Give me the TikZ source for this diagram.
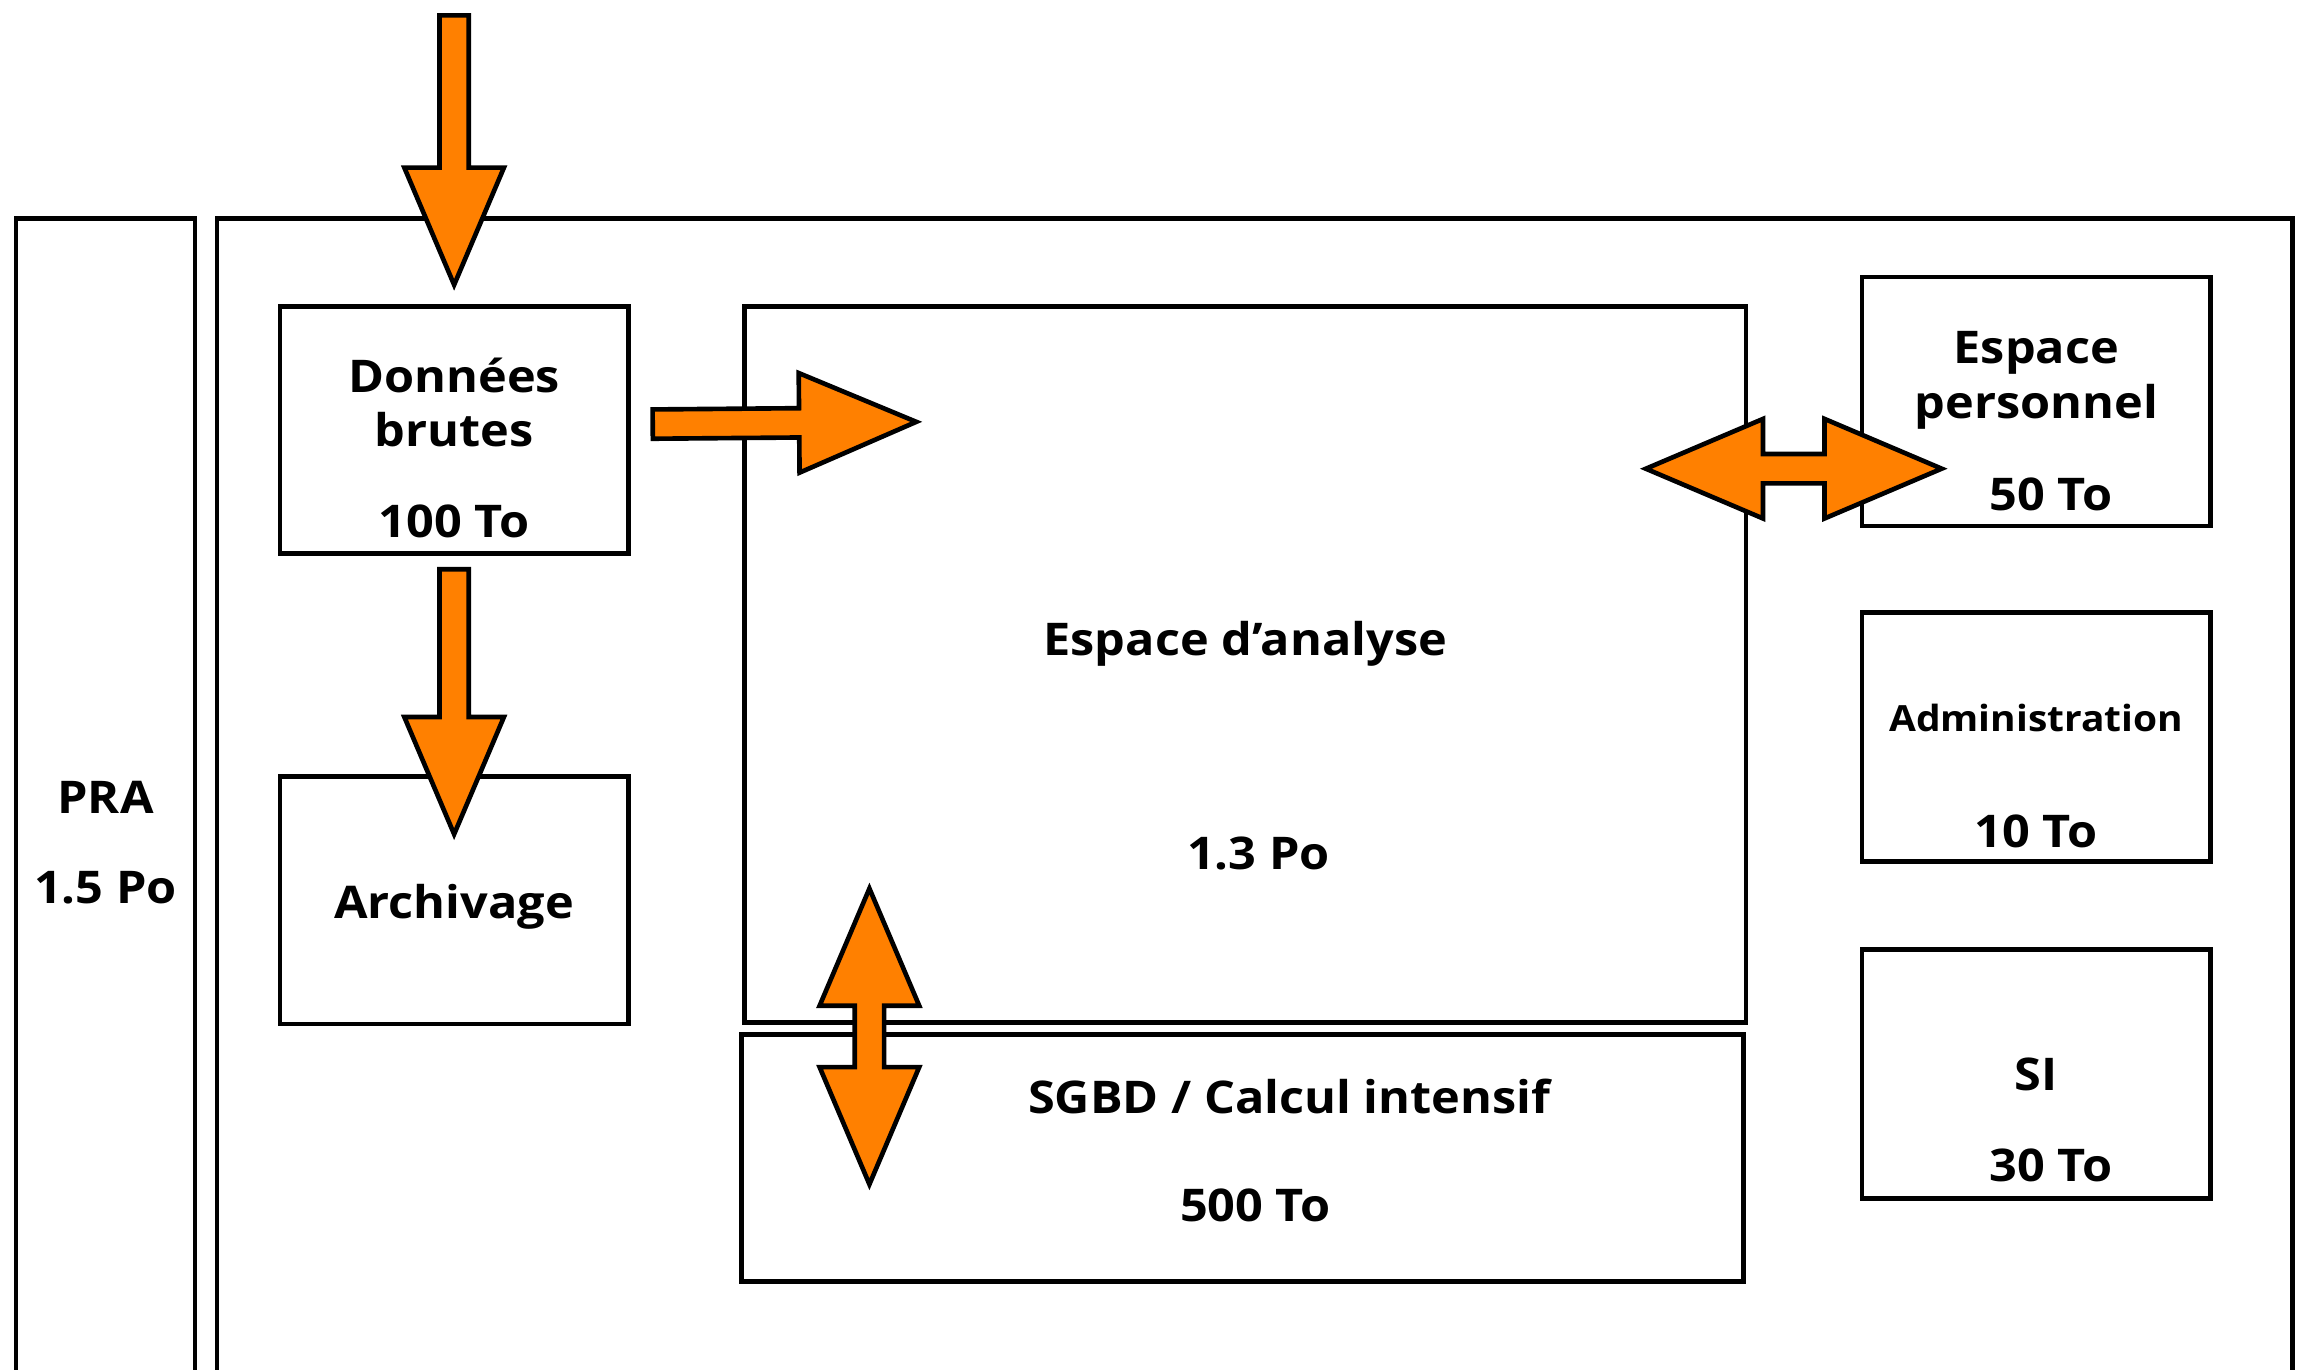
\documentclass[tikz,border=0pt]{standalone}
\usepackage{fontspec}
\setsansfont{Open Sans}[FakeStretch=1.08]
\usetikzlibrary{calc}

\definecolor{arroworange}{RGB}{255,128,0}
\lineskiplimit=-1000pt

% fat orange arrows, drawn from one point to the other
\newcommand{\fatArrow}[2]{%
   \coordinate (fa-b) at ($(#2)!1.6cm!(#1)$);
   \draw[fatarrow] ($(#1)!0.2cm!90:(#2)$) -- ($(fa-b)!0.2cm!90:(#2)$)
      -- ($(fa-b)!0.68cm!90:(#2)$) -- (#2) -- ($(fa-b)!0.68cm!-90:(#2)$)
      -- ($(fa-b)!0.2cm!-90:(#2)$) -- ($(#1)!0.2cm!-90:(#2)$) -- cycle;}
\newcommand{\fatDoubleArrow}[2]{%
   \coordinate (fa-a) at ($(#1)!1.6cm!(#2)$);
   \coordinate (fa-b) at ($(#2)!1.6cm!(#1)$);
   \draw[fatarrow] (#1) -- ($(fa-a)!0.68cm!90:(#2)$) -- ($(fa-a)!0.2cm!90:(#2)$)
      -- ($(fa-b)!0.2cm!90:(#2)$) -- ($(fa-b)!0.68cm!90:(#2)$) -- (#2)
      -- ($(fa-b)!0.68cm!-90:(#2)$) -- ($(fa-b)!0.2cm!-90:(#2)$)
      -- ($(fa-a)!0.2cm!-90:(#2)$) -- ($(fa-a)!0.68cm!-90:(#2)$) -- cycle;}

\tikzset{
   box/.style={draw, line width=1.8pt, rectangle, inner sep=0pt, align=center,
      font=\sffamily\bfseries\fontsize{17.5}{0pt}\selectfont},
   fatarrow/.style={draw, line width=1.8pt, fill=arroworange, line join=miter},
}

\begin{document}
\begin{tikzpicture}[x=0.02cm, y=-0.02cm]
   \useasboundingbox (0,0) rectangle (1568,935);
   \clip (0,0) rectangle (1568,935);

   \node[box, minimum width=2.44cm, minimum height=19.02cm] (pra) at (72,624.5)
      {\rule{0pt}{8.124cm}PRA\\[1.228cm]1.5 Po\rule[-9.668cm]{0pt}{9.668cm}};
   \node[box, minimum width=28.34cm, minimum height=19.02cm] (main) at (856.5,624.5) {};

   \node[box, minimum width=4.76cm, minimum height=3.38cm] (raw) at (310,293.5)
      {\rule{0pt}{1.172cm}Données\\[0.742cm]brutes\\[1.246cm]100 To\rule[-0.22cm]{0pt}{0.22cm}};
   \node[box, minimum width=4.76cm, minimum height=3.38cm] (arch) at (310,614.5)
      {\rule{0pt}{1.934cm}Archivage\rule[-1.446cm]{0pt}{1.446cm}};

   \node[box, minimum width=13.68cm, minimum height=9.78cm] (ana) at (850,453.5)
      {\rule{0pt}{4.776cm}Espace d’analyse\\[2.91cm]\hspace*{0.36cm}1.3 Po\rule[-2.094cm]{0pt}{2.094cm}};
   \node[box, minimum width=13.68cm, minimum height=3.38cm] (sgbd) at (848,790.5)
      {\rule{0pt}{1.086cm}\hspace*{1.28cm}SGBD / Calcul intensif\\[1.472cm]\hspace*{0.36cm}500 To\rule[-0.822cm]{0pt}{0.822cm}};

   \node[box, minimum width=4.76cm, minimum height=3.4cm] (pers) at (1390,274)
      {\rule{0pt}{1.176cm}Espace\\[0.762cm]personnel\\[1.246cm]\hspace*{0.4cm}50 To\rule[-0.216cm]{0pt}{0.216cm}};
   \node[box, minimum width=4.76cm, minimum height=3.4cm] (adm) at (1390,503)
      {\rule{0pt}{1.62cm}{\fontsize{14}{0pt}\selectfont Administration}\\[1.586cm]10 To\rule[-0.194cm]{0pt}{0.194cm}};
   \node[box, minimum width=4.76cm, minimum height=3.4cm] (si) at (1390,733)
      {\rule{0pt}{1.932cm}SI\\[1.242cm]\hspace*{0.4cm}30 To\rule[-0.226cm]{0pt}{0.226cm}};

   % arrows
   \coordinate (feed-in) at (310,10.5);
   \coordinate (feed-tip) at ($(raw.north)+(0,-13)$);
   \fatArrow{feed-in}{feed-tip}

   \coordinate (raw-out) at ($(raw.south)+(0,9)$);
   \coordinate (arch-in) at ($(arch.north)+(0,41)$);
   \fatArrow{raw-out}{arch-in}

   \coordinate (raw-east) at ($(raw.east)+(15,-4)$);
   \coordinate (ana-in) at ($(ana.north west)+(119,80.5)$);
   \fatArrow{raw-east}{ana-in}

   \coordinate (ana-io) at ($(ana.north east)+(-70,112.5)$);
   \coordinate (pers-io) at ($(pers.north west)+(56,132.5)$);
   \fatDoubleArrow{ana-io}{pers-io}

   \coordinate (ana-db) at ($(ana.south west)+(87,-93)$);
   \coordinate (sgbd-db) at ($(sgbd.north west)+(89,104)$);
   \fatDoubleArrow{ana-db}{sgbd-db}
\end{tikzpicture}
\end{document}
